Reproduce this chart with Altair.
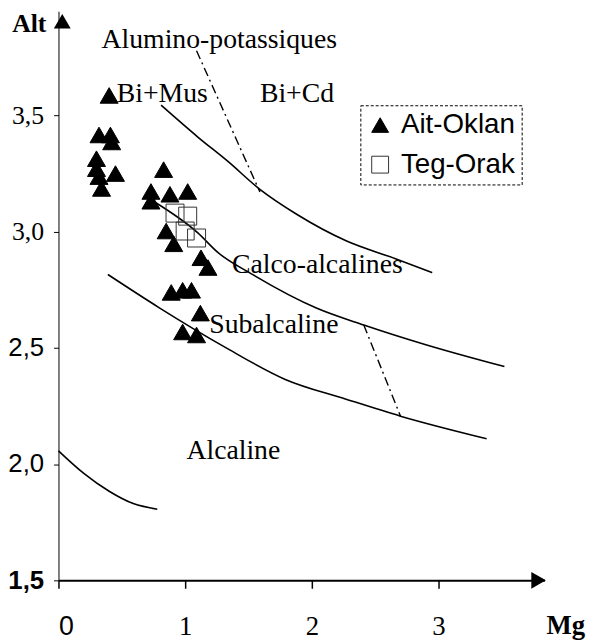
import altair as alt
import pandas as pd

# --- sample data (Mg, Alt) ---
ait_mg = [0.40, 0.32, 0.41, 0.42, 0.30, 0.30, 0.32, 0.45, 0.34, 0.83, 0.73, 0.73,
          0.88, 1.02, 0.85, 0.91, 1.125, 1.18, 0.89, 0.98, 1.05, 1.12, 0.98, 1.09]
ait_alt = [3.585, 3.415, 3.415, 3.385, 3.313, 3.270, 3.236, 3.249, 3.185, 3.266, 3.172, 3.130,
           3.160, 3.172, 3.002, 2.947, 2.887, 2.845, 2.738, 2.747, 2.747, 2.649, 2.568, 2.555]
teg_mg = [0.92, 1.02, 1.00, 1.09]
teg_alt = [3.079, 3.066, 3.002, 2.972]

# --- boundary curves ---
top_mg = [0.81, 1.10, 1.34, 1.59, 1.88, 2.27, 2.66, 2.95]
top_alt = [3.543, 3.406, 3.300, 3.181, 3.074, 2.960, 2.883, 2.823]
mid_mg = [0.75, 1.10, 1.26, 1.52, 2.04, 2.41, 2.90, 3.52]
mid_alt = [3.130, 2.994, 2.909, 2.819, 2.670, 2.598, 2.513, 2.419]
low_mg = [0.39, 0.79, 1.31, 1.79, 2.27, 2.70, 3.38]
low_alt = [2.815, 2.674, 2.504, 2.364, 2.279, 2.206, 2.109]
small_mg = [0.0, 0.20, 0.40, 0.59, 0.78]
small_alt = [2.057, 1.96, 1.883, 1.83, 1.806]
dash1_mg = [1.09, 1.59]
dash1_alt = [3.777, 3.17]
dash2_mg = [2.41, 2.70]
dash2_alt = [2.598, 2.206]

# --- field labels ---
label_text = ["Alumino-potassiques", "Bi+Mus", "Bi+Cd", "Calco-alcalines", "Subalcaline", "Alcaline"]
label_mg = [0.34, 0.46, 1.59, 1.37, 1.19, 1.01]
label_alt = [3.789, 3.555, 3.555, 2.823, 2.564, 2.023]

# --- axis arrowheads ---
xarrow_mg = [3.79]
xarrow_alt = [1.5]
yarrow_mg = [0.03]
yarrow_alt = [3.904]

x_ticks = [0, 1, 2, 3]
y_ticks = [1.5, 2.0, 2.5, 3.0, 3.5]

pts = pd.DataFrame({
    "Mg": ait_mg + teg_mg,
    "Alt": ait_alt + teg_alt,
    "group": ["Ait-Oklan"] * len(ait_mg) + ["Teg-Orak"] * len(teg_mg),
})

def curve_df(names_mg_alt):
    rows = []
    for name, mgs, alts in names_mg_alt:
        for i, (m, a) in enumerate(zip(mgs, alts)):
            rows.append({"curve": name, "order": i, "Mg": m, "Alt": a})
    return pd.DataFrame(rows)

solid = curve_df([("top", top_mg, top_alt), ("mid", mid_mg, mid_alt),
                  ("low", low_mg, low_alt), ("small", small_mg, small_alt)])
dashed = curve_df([("d1", dash1_mg, dash1_alt), ("d2", dash2_mg, dash2_alt)])
labels = pd.DataFrame({"text": label_text, "Mg": label_mg, "Alt": label_alt})
xarrow = pd.DataFrame({"Mg": xarrow_mg, "Alt": xarrow_alt})
yarrow = pd.DataFrame({"Mg": yarrow_mg, "Alt": yarrow_alt})

SERIF = "Liberation Serif"
SANS = "Liberation Sans"

xscale = alt.Scale(domain=[0, 3.836], nice=False, zero=False)
yscale = alt.Scale(domain=[1.5, 3.947], nice=False, zero=False)

x_axis = alt.Axis(
    values=x_ticks, format="d", grid=False, title="Mg",
    domainColor="black", domainWidth=2, tickColor="black", tickWidth=1.5, tickSize=8,
    labelFontSize=27, labelColor="black", labelPadding=26,
    labelFont=alt.condition("datum.value == 0", alt.value(SANS), alt.value(SERIF)),
    titleFont=SERIF, titleFontSize=27, titleFontWeight="bold", titleColor="black",
    titleX=512, titleY=54, titleAlign="center", titleBaseline="alphabetic",
)
y_axis = alt.Axis(
    values=y_ticks, grid=False, title="Alt",
    labelExpr="replace(format(datum.value, '.1f'), '.', ',')",
    domainColor="black", domainWidth=1, tickColor="black", tickWidth=1, tickSize=5,
    labelFontSize=26, labelColor="black", labelPadding=10,
    labelFont=alt.condition("datum.value >= 3", alt.value(SERIF), alt.value(SANS)),
    labelFontWeight=alt.condition("datum.value == 1.5", alt.value("bold"), alt.value("normal")),
    titleFont=SERIF, titleFontSize=26, titleFontWeight="bold", titleColor="black",
    titleAngle=0, titleX=-30, titleY=20, titleAlign="center", titleBaseline="alphabetic",
)

base_x = alt.X("Mg:Q", scale=xscale, axis=x_axis)
base_y = alt.Y("Alt:Q", scale=yscale, axis=y_axis)

groups = ["Ait-Oklan", "Teg-Orak"]
points = alt.Chart(pts).mark_point(size=330, strokeWidth=1, opacity=1).encode(
    x=base_x, y=base_y,
    shape=alt.Shape("group:N", scale=alt.Scale(domain=groups, range=["triangle-up", "square"]), title=None),
    fill=alt.Fill("group:N", scale=alt.Scale(domain=groups, range=["black", "transparent"]), title=None),
    stroke=alt.Stroke("group:N", scale=alt.Scale(domain=groups, range=["black", "#333333"]), title=None),
)

lines = alt.Chart(solid).mark_line(color="black", strokeWidth=1.6, interpolate="monotone").encode(
    x="Mg:Q", y="Alt:Q", detail="curve:N", order="order:Q")

dlines = alt.Chart(dashed).mark_line(color="black", strokeWidth=1.4, strokeDash=[9, 4, 2, 4]).encode(
    x="Mg:Q", y="Alt:Q", detail="curve:N", order="order:Q")

texts = alt.Chart(labels).mark_text(font=SERIF, fontSize=28, align="left",
                                    baseline="alphabetic", color="black").encode(
    x="Mg:Q", y="Alt:Q", text="text:N")

xhead = alt.Chart(xarrow).mark_point(shape="triangle-right", filled=True, size=290,
                                     color="black", opacity=1).encode(x="Mg:Q", y="Alt:Q")
yhead = alt.Chart(yarrow).mark_point(shape="triangle-up", filled=True, size=290,
                                     color="black", opacity=1).encode(x="Mg:Q", y="Alt:Q")

chart = alt.layer(lines, dlines, texts, points, xhead, yhead).properties(
    width=491, height=575,
    autosize=alt.AutoSizeParams(type="none"),
    padding={"left": 51, "top": 0, "right": 42, "bottom": 57},
).configure_view(stroke=None).configure_legend(
    orient="none", legendX=305, legendY=95,
    strokeColor="black", strokeDash=[3, 2], strokeWidth=1, fillColor="white",
    padding=6, labelFont=SANS, labelFontSize=28, labelColor="black",
    symbolSize=290, symbolStrokeWidth=1, rowPadding=12, labelOffset=7,
)

chart.save("out.html", embed_options={"renderer": "svg", "actions": False})
